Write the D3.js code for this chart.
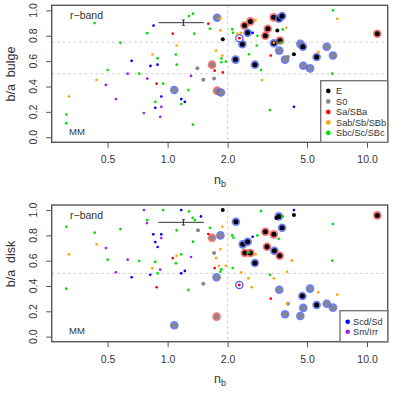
<!DOCTYPE html>
<html><head><meta charset="utf-8">
<script src="https://cdn.jsdelivr.net/npm/d3@7"></script>
<style>body{margin:0;background:#fff}svg{display:block}text{font-family:"Liberation Sans",Arial,Helvetica,sans-serif;fill:#333}</style>
</head><body><svg id="c" width="399" height="399"></svg>
<script>
// ---------- data ----------
const xTicks=[0.5,1,2,5,10];
const xTickLabels=["0.5","1.0","2.0","5.0","10.0"];
const yTicks=[0,0.2,0.4,0.6,0.8,1];
const yTickLabels=["0.0","0.2","0.4","0.6","0.8","1.0"];
const typeNames=["E","S0","Sa/SBa","Sab/Sb/SBb","Sbc/Sc/SBc","Scd/Sd","Sm/Irr"];
const typeColors=["#000000","#888888","#ff0000","#ffa500","#00e000","#0000ff","#a020f0"];
const ringColors={b:"#4a5ef0",r:"#f05050"};
// top panel: b/a bulge
const bulgeN=[0.43,0.85,0.79,1.06,1.36,1.28,1.34,0.58,1.11,0.84,1.10,0.89,0.66,0.82,0.89,1.11,1.41,0.50,0.63,0.72,0.44,0.79,0.88,0.95,1.31,0.49,1.08,1.27,0.32,0.55,0.93,1.17,0.867,1.22,1.17,0.867,0.93,0.31,0.76,0.918,0.31,1.34,
1.77,1.60,1.83,1.63,1.84,1.89,2.11,2.13,2.24,2.29,2.34,2.43,2.60,2.76,2.52,2.67,2.37,2.82,2.80,1.75,1.88,1.86,1.96,1.86,1.67,1.72,1.89,2.56,2.19,2.74,2.94,1.51,1.71,1.77,1.85,2.98,3.26,4.30,
3.40,3.62,3.75,3.18,3.55,3.94,3.78,3.09,3.66,3.41,3.41,3.68,3.63,3.29,3.88,4.01,4.30,4.63,4.77,5.70,6.28,5.59,6.75,4.79,5.18,6.70,6.75,7.10,11.26];
const bulgeBA=[0.90,0.88,0.82,0.816,0.816,0.955,0.974,0.744,0.723,0.652,0.652,0.622,0.602,0.562,0.572,0.572,0.543,0.530,0.501,0.501,0.451,0.462,0.422,0.422,0.483,0.412,0.372,0.372,0.321,0.301,0.321,0.301,0.279,0.279,0.261,0.232,0.240,0.179,0.190,0.161,0.111,0.100,
0.942,0.895,0.937,0.855,0.842,0.773,0.852,0.823,0.816,0.781,0.823,0.881,0.913,0.923,0.823,0.823,0.733,0.800,0.723,0.683,0.644,0.620,0.596,0.591,0.572,0.525,0.511,0.654,0.612,0.572,0.530,0.454,0.462,0.367,0.353,0.451,0.214,0.240,
0.945,0.934,0.955,0.855,0.842,0.863,0.850,0.800,0.762,0.741,0.745,0.745,0.683,0.644,0.612,0.633,0.654,0.736,0.713,0.673,0.713,0.633,0.644,0.564,0.543,0.501,1.00,0.934,0.816];
const bulgeType=[4,5,4,2,4,4,4,4,3,3,4,4,5,5,5,4,1,4,6,4,3,6,2,4,6,6,1,4,3,6,5,5,4,5,4,5,6,4,6,6,4,4,
1,2,3,4,3,0,4,4,3,2,3,0,0,3,0,5,0,4,4,3,3,4,4,4,1,2,2,4,0,0,4,1,1,1,1,3,4,5,
0,0,0,0,0,3,4,0,0,0,3,4,1,2,1,1,0,1,0,3,1,0,1,1,1,4,4,3,0];
const bulgeRing=["","","","","","","","","","","","","","","","","","","","","","","","","","","b","","","","","","","","","","","","","","","",
"b","","","","","","","","","o","","r","r","","b","","b","","","","","","","","r","","","","b","b","","","","r","b","","","",
"r","b","b","r","","","","r","r","b","","","b","","b","","","b","b","","b","b","b","b","b","","","","r"];
// bottom panel: b/a disk
const diskN=[0.311,0.320,0.310,0.43,0.44,0.49,0.50,0.58,0.63,0.72,0.55,0.66,0.76,0.79,0.787,0.847,0.929,0.929,0.867,0.891,0.95,1.17,1.28,1.335,1.37,1.11,1.34,0.837,0.867,0.918,0.818,0.891,1.11,1.06,1.10,1.17,1.31,1.17,1.22,0.881,1.27,1.08,1.42,
1.89,1.47,1.63,1.60,1.67,1.84,1.88,1.84,1.71,1.75,1.72,1.81,1.86,1.84,1.96,1.76,1.51,1.76,2.11,2.14,2.12,2.34,2.29,2.54,2.64,2.20,2.38,2.52,2.44,2.60,2.56,2.76,2.74,2.67,2.82,2.94,
3.09,3.75,3.61,3.41,3.15,3.43,3.65,4.20,3.26,3.41,3.97,3.61,3.51,3.78,4.30,4.30,3.63,3.29,4.01,3.97,3.88,4.63,4.79,4.74,5.18,5.70,5.59,6.28,6.75,7.10,6.73,6.70,11.26];
const diskBA=[0.868,0.650,0.379,0.821,0.729,0.700,0.608,0.850,0.608,0.597,0.508,0.469,1.000,0.921,0.897,0.808,0.808,0.779,0.747,0.708,1.000,1.000,0.990,0.939,0.921,0.840,0.750,0.540,0.590,0.529,0.489,0.500,0.639,0.621,0.579,0.650,0.629,0.500,0.519,0.390,0.369,0.090,0.840,
1.000,0.950,0.860,0.811,0.781,0.800,0.868,0.692,0.661,0.621,0.542,0.558,0.532,0.513,0.560,0.469,0.418,0.158,0.800,0.781,0.542,0.508,0.408,0.461,0.390,0.908,0.729,0.750,0.661,0.661,0.666,0.650,0.582,0.789,0.800,0.992,
0.829,0.860,0.773,0.808,0.710,0.679,0.639,0.600,0.489,0.461,0.511,0.950,0.937,0.950,0.961,1.000,0.371,0.300,0.260,0.260,0.177,0.163,0.227,0.321,0.379,0.350,0.250,0.260,0.229,0.331,0.890,0.600,0.958];
const diskType=[4,3,4,4,3,6,4,4,6,4,6,5,6,4,6,5,5,6,5,5,4,5,4,4,4,4,4,3,4,6,5,4,3,2,4,4,6,5,5,2,4,1,1,
0,5,4,2,1,1,3,3,1,3,2,3,4,4,3,1,1,1,4,4,4,3,2,3,3,0,0,0,0,0,4,3,0,5,4,4,
0,0,4,0,0,0,0,3,4,3,3,0,0,4,0,5,1,2,1,3,1,1,1,0,1,3,0,1,1,3,4,4,0];
const diskRing=["","","","","","","","","","","","","","","","","","","","","","","","","","","","","","","","","","","","","","","","","","b","",
"","","","","r","b","","","","","","","","","","b","","r","","","","","o","","","b","b","b","r","r","","","b","","","",
"r","b","","r","r","b","r","","","","","b","","","","","b","","","","b","b","b","b","b","","b","b","b","","","","r"];
// error bar: centre n, n low, n high, b/a, half-height
const errBar=[1.20,0.90,1.52,0.903,0.021];
const topLegend=[0,1,2,3,4];
const bottomLegend=[5,6];

// ---------- drawing ----------
const svg=d3.select("#c");
const xL=51.7,xR=387.7;
const x=d3.scaleLog().domain([0.2621,12.70]).range([xL,xR]);

function panel(o){
  const y=d3.scaleLinear().domain([-0.04,1.04]).range([o.y1,o.y0]);
  const g=svg.append("g");
  const dash="2.5,3";
  g.append("line").attr("x1",x(2)).attr("x2",x(2)).attr("y1",o.y0).attr("y2",o.y1)
    .attr("stroke","#cccccc").attr("stroke-dasharray",dash);
  o.hlines.forEach(v=>g.append("line").attr("x1",xL).attr("x2",xR).attr("y1",y(v)).attr("y2",y(v))
    .attr("stroke","#cccccc").attr("stroke-dasharray",dash));
  const idx=d3.range(o.N.length);
  // ringed markers
  idx.filter(i=>o.R[i]==="b"||o.R[i]==="r").forEach(i=>{
    g.append("circle").attr("cx",x(o.N[i])).attr("cy",y(o.BA[i])).attr("r",4.3)
      .attr("fill",ringColors[o.R[i]]).attr("fill-opacity",0.8);
    g.append("circle").attr("cx",x(o.N[i])).attr("cy",y(o.BA[i])).attr("r",2.5)
      .attr("fill",typeColors[o.T[i]]);
  });
  idx.filter(i=>o.R[i]==="o").forEach(i=>{
    g.append("circle").attr("cx",x(o.N[i])).attr("cy",y(o.BA[i])).attr("r",3.6)
      .attr("fill","#fff").attr("stroke",ringColors.b).attr("stroke-width",1.3);
    g.append("circle").attr("cx",x(o.N[i])).attr("cy",y(o.BA[i])).attr("r",1.4)
      .attr("fill",typeColors[o.T[i]]);
  });
  // plain markers
  idx.filter(i=>o.R[i]==="").forEach(i=>{
    g.append("circle").attr("cx",x(o.N[i])).attr("cy",y(o.BA[i]))
      .attr("r",o.T[i]<=1?2.0:1.35).attr("fill",typeColors[o.T[i]]);
  });
  // error bar
  const ey=y(errBar[3]);
  g.append("line").attr("x1",x(errBar[1])).attr("x2",x(errBar[2])).attr("y1",ey).attr("y2",ey).attr("stroke","#333").attr("stroke-width",1);
  g.append("line").attr("x1",x(errBar[0])).attr("x2",x(errBar[0])).attr("y1",y(errBar[3]-errBar[4])).attr("y2",y(errBar[3]+errBar[4])).attr("stroke","#333");
  [errBar[3]-errBar[4],errBar[3]+errBar[4]].forEach(v=>g.append("line").attr("x1",x(errBar[0])-1.5).attr("x2",x(errBar[0])+1.5).attr("y1",y(v)).attr("y2",y(v)).attr("stroke","#333"));
  // axes
  const ax=g.append("g").attr("transform",`translate(0,${o.y1})`)
    .call(d3.axisBottom(x).tickValues(xTicks).tickFormat((d,i)=>xTickLabels[i]).tickSize(5.5).tickSizeOuter(0).tickPadding(8));
  ax.select(".domain").remove();
  ax.selectAll("line").attr("stroke","#555");
  ax.selectAll("text").attr("font-size",10.5).attr("fill","#333").attr("font-family",null);
  const ay=g.append("g").attr("transform",`translate(${xL},0)`)
    .call(d3.axisLeft(y).tickValues(yTicks).tickFormat("").tickSize(5.5).tickSizeOuter(0));
  ay.select(".domain").remove();
  ay.selectAll("line").attr("stroke","#555");
  yTicks.forEach((v,i)=>g.append("text").attr("x",37.3).attr("y",y(v)).attr("font-size",10.5)
    .attr("text-anchor","middle").attr("transform",`rotate(-90,37.3,${y(v)})`).text(yTickLabels[i]));
  // box
  g.append("rect").attr("x",xL).attr("y",o.y0).attr("width",xR-xL).attr("height",o.y1-o.y0)
    .attr("fill","none").attr("stroke","#555").attr("stroke-width",1.4);
  // titles
  g.append("text").attr("x",14.5).attr("y",o.yTitleY).attr("font-size",12.5).attr("text-anchor","middle")
    .style("white-space","pre").attr("transform",`rotate(-90,14.5,${o.yTitleY})`).text(o.yTitle);
  const xt=g.append("text").attr("x",214).attr("y",o.xTitleY).attr("font-size",12.5);
  xt.append("tspan").text("n");
  xt.append("tspan").attr("dy",3).attr("font-size",9).text("b");
  g.append("text").attr("x",70).attr("y",y(0.93)).attr("font-size",10.5).text("r\u2212band");
  g.append("text").attr("x",69).attr("y",y(0.02)).attr("font-size",9.5).text("MM");
  // legend
  const L=o.leg;
  g.append("rect").attr("x",L.x0).attr("y",L.y0).attr("width",xR-L.x0).attr("height",o.y1-L.y0)
    .attr("fill","#fff").attr("stroke","#777").attr("stroke-width",1.4);
  o.legTypes.forEach((t,k)=>{
    const ly=L.first+k*L.step;
    g.append("circle").attr("cx",L.mx).attr("cy",ly).attr("r",2.3).attr("fill",typeColors[t]);
    g.append("text").attr("x",L.tx).attr("y",ly).attr("dy","0.35em").attr("font-size",9.2).text(typeNames[t]);
  });
}

panel({y0:5.3,y1:142.3,N:bulgeN,BA:bulgeBA,T:bulgeType,R:bulgeRing,hlines:[0.5,0.75],
  yTitle:"b/a  bulge",yTitleY:74,xTitleY:184,legTypes:topLegend,
  leg:{x0:320.7,y0:80.7,first:90.9,step:10.5,mx:328.3,tx:336}});
panel({y0:205,y1:341.7,N:diskN,BA:diskBA,T:diskType,R:diskRing,hlines:[0.5],
  yTitle:"b/a  disk",yTitleY:264,xTitleY:383,legTypes:bottomLegend,
  leg:{x0:340,y0:310.7,first:321.7,step:10,mx:347.7,tx:353}});
</script></body></html>
